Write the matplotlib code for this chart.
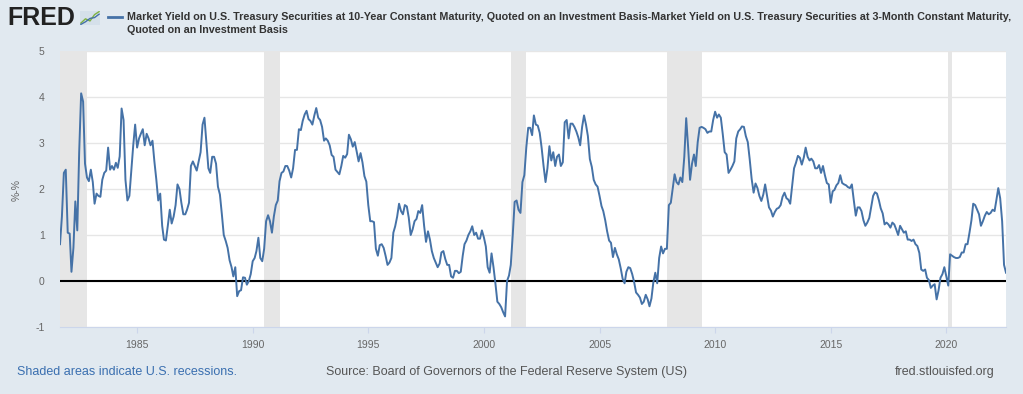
import matplotlib.pyplot as plt
import pandas as pd

plt.rcParams['font.family'] = ['Liberation Sans', 'DejaVu Sans']
plt.rcParams['axes.unicode_minus'] = False

# monthly spread 10Y - 3M (percentage points), starting Sep 1981
spread_1980s = [
    0.8, 1.4, 2.35, 2.42,
    1.05, 1.03, 0.2, 0.72, 1.73, 1.1, 2.8, 4.08, 3.9, 2.55, 2.25, 2.17,
    2.42, 2.15, 1.68, 1.9, 1.85, 1.83, 2.2, 2.35, 2.4, 2.9, 2.42, 2.5,
    2.42, 2.57, 2.46, 2.71, 3.75, 3.5, 2.2, 1.75, 1.85, 2.4, 2.95, 3.4,
    2.9, 3.1, 3.2, 3.3, 2.95, 3.2, 3.1, 2.95, 3.05, 2.6, 2.2, 1.75,
    1.9, 1.2, 0.9, 0.88, 1.2, 1.55, 1.25, 1.4, 1.65, 2.1, 2.0, 1.7,
    1.45, 1.45, 1.55, 1.7, 2.5, 2.6, 2.5, 2.4, 2.6, 2.8, 3.4, 3.55,
    3.0, 2.45, 2.35, 2.7, 2.7, 2.55, 2.05, 1.88, 1.45, 1.0, 0.87, 0.72,
    0.45, 0.3, 0.1, 0.3, -0.33, -0.22, -0.2, 0.08, 0.07, -0.08, 0.0, 0.15,
]
spread_1990s = [
    0.43, 0.5, 0.65, 0.94, 0.5, 0.43, 0.7, 1.3, 1.43, 1.3, 1.05, 1.4,
    1.65, 1.75, 2.17, 2.35, 2.38, 2.5, 2.5, 2.4, 2.25, 2.45, 2.85, 2.85,
    3.3, 3.28, 3.48, 3.62, 3.7, 3.52, 3.48, 3.4, 3.6, 3.76, 3.55, 3.5,
    3.35, 3.05, 3.1, 3.05, 2.95, 2.74, 2.7, 2.42, 2.37, 2.32, 2.5, 2.72,
    2.68, 2.76, 3.18, 3.08, 2.92, 3.02, 2.82, 2.6, 2.78, 2.58, 2.28, 2.16,
    1.65, 1.3, 1.3, 1.28, 0.7, 0.55, 0.78, 0.8, 0.72, 0.55, 0.35, 0.4,
    0.5, 1.05, 1.19, 1.4, 1.68, 1.52, 1.45, 1.65, 1.62, 1.38, 1.0, 1.12,
    1.3, 1.35, 1.52, 1.48, 1.65, 1.2, 0.85, 1.08, 0.9, 0.65, 0.5, 0.4,
    0.3, 0.38, 0.62, 0.65, 0.48, 0.35, 0.35, 0.1, 0.07, 0.22, 0.22, 0.17,
    0.2, 0.55, 0.8, 0.88, 1.0, 1.08, 1.19, 1.0, 1.05, 0.92, 0.92, 1.1,
]
spread_2000s = [
    0.95, 0.75, 0.3, 0.18, 0.6, 0.3, -0.05, -0.45, -0.5, -0.57, -0.68, -0.77,
    0.0, 0.12, 0.35, 1.0, 1.72, 1.75, 1.55, 1.48, 2.15, 2.3, 2.9, 3.33,
    3.33, 3.17, 3.6, 3.4, 3.38, 3.22, 2.9, 2.5, 2.15, 2.45, 2.93, 2.62,
    2.8, 2.5, 2.7, 2.75, 2.5, 2.58, 3.45, 3.5, 3.1, 3.42, 3.42, 3.35,
    3.25, 3.12, 2.95, 3.35, 3.6, 3.4, 3.15, 2.65, 2.48, 2.2, 2.1, 2.05,
    1.85, 1.63, 1.52, 1.32, 1.08, 0.88, 0.83, 0.52, 0.72, 0.58, 0.47, 0.28,
    0.05, -0.05, 0.2, 0.3, 0.28, 0.15, -0.02, -0.25, -0.3, -0.36, -0.5, -0.45,
    -0.3, -0.4, -0.55, -0.38, -0.03, 0.18, -0.05, 0.5, 0.75, 0.6, 0.7, 0.7,
    1.65, 1.7, 2.0, 2.32, 2.15, 2.1, 2.25, 2.15, 2.7, 3.54, 2.9, 2.2,
    2.55, 2.75, 2.5, 3.02, 3.33, 3.35, 3.33, 3.3, 3.22, 3.25, 3.25, 3.5,
]
spread_2010s = [
    3.68, 3.55, 3.62, 3.55, 3.2, 2.8, 2.75, 2.35, 2.42, 2.5, 2.6, 3.1,
    3.25, 3.3, 3.36, 3.35, 3.15, 3.02, 2.65, 2.22, 1.92, 2.12, 2.02, 1.85,
    1.74, 1.88, 2.1, 1.85, 1.6, 1.53, 1.4, 1.5, 1.57, 1.59, 1.65, 1.83,
    1.92, 1.8, 1.77, 1.68, 2.05, 2.45, 2.57, 2.72, 2.68, 2.53, 2.68, 2.9,
    2.7, 2.62, 2.66, 2.6, 2.45, 2.45, 2.52, 2.35, 2.5, 2.3, 2.13, 2.1,
    1.7, 1.95, 1.98, 2.08, 2.13, 2.3, 2.13, 2.1, 2.08, 2.04, 2.02, 2.1,
    1.75, 1.42, 1.6, 1.6, 1.52, 1.32, 1.2, 1.27, 1.37, 1.6, 1.85, 1.93,
    1.9, 1.75, 1.58, 1.47, 1.23, 1.27, 1.23, 1.16, 1.27, 1.23, 1.12, 1.0,
    1.2, 1.12, 1.05, 1.08, 0.9, 0.9, 0.87, 0.9, 0.8, 0.76, 0.61, 0.25,
    0.22, 0.25, 0.07, 0.02, -0.15, -0.1, -0.07, -0.4, -0.2, 0.07, 0.15, 0.3,
]
spread_2020s = [
    0.1, -0.1, 0.58, 0.55, 0.52, 0.5, 0.5, 0.52, 0.62, 0.62, 0.8, 0.8,
    1.05, 1.32, 1.68, 1.65, 1.55, 1.45, 1.2, 1.3, 1.42, 1.5, 1.45, 1.48,
    1.55, 1.52, 1.75, 2.02, 1.8, 1.3, 0.35, 0.18,
]

recession_start = ["1981-07-01", "1990-07-01", "2001-03-01", "2007-12-01", "2020-02-01"]
recession_end = ["1982-11-01", "1991-03-01", "2001-11-01", "2009-06-01", "2020-04-01"]
tick_years = [1985, 1990, 1995, 2000, 2005, 2010, 2015, 2020]

values = spread_1980s + spread_1990s + spread_2000s + spread_2010s + spread_2020s
dates = pd.date_range("1981-09-01", periods=len(values), freq="MS")

bg = "#e1e9f0"
fig = plt.figure(figsize=(10.23, 3.94), dpi=100, facecolor=bg)
ax = fig.add_axes([60 / 1023, 1 - 327 / 394, 946 / 1023, 276 / 394])
ax.set_facecolor("white")

for s, e in zip(recession_start, recession_end):
    ax.axvspan(pd.Timestamp(s), pd.Timestamp(e), color="#e6e6e6", lw=0, zorder=0)

ax.set_ylim(-1, 5)
ax.set_yticks(range(-1, 6))
ax.grid(axis="y", color="#e6e6e6", lw=1, zorder=1)
ax.axhline(0, color="black", lw=1.5, zorder=2)
ax.plot(dates, values, color="#4572a7", lw=1.4, zorder=3)
ax.set_xlim(dates[0], dates[-1])
ax.set_xticks([pd.Timestamp(f"{y}-01-01") for y in tick_years])
ax.set_xticklabels([str(y) for y in tick_years])

for side in ["top", "right", "left"]:
    ax.spines[side].set_visible(False)
ax.spines["bottom"].set_color("#ccd6eb")
ax.tick_params(axis="y", length=0, labelsize=7.5, labelcolor="#666666", pad=11)
ax.tick_params(axis="x", length=4, color="#ccd6eb", labelsize=7.5,
               labelcolor="#666666", pad=5)

fig.text(17 / 1023, 1 - 190 / 394, "%-%", rotation=90, ha="center", va="center",
         fontsize=7.5, color="#666666")

# header: logo and legend
fig.text(7 / 1023, 1 - 18 / 394, "FRED", fontsize=18, fontweight="bold",
         color="#222222", va="center", ha="left")
icon = fig.add_axes([80 / 1023, 1 - 25 / 394, 20 / 1023, 14 / 394])
icon.set_facecolor("#d5e0ea")
icon.plot([0, 1, 2, 3, 4], [0.5, 1.5, 1.0, 2.5, 3.2], color="#7fb241", lw=1)
icon.plot([0, 1, 2, 3, 4], [0.2, 0.8, 1.6, 1.8, 2.6], color="#4572a7", lw=1)
icon.set_xticks([])
icon.set_yticks([])
for sp in icon.spines.values():
    sp.set_visible(False)

fig.add_artist(plt.Line2D([108 / 1023, 122 / 1023], [1 - 17 / 394, 1 - 17 / 394],
                          color="#4572a7", lw=2))
title1 = ("Market Yield on U.S. Treasury Securities at 10-Year Constant Maturity, "
          "Quoted on an Investment Basis-Market Yield on U.S. Treasury Securities "
          "at 3-Month Constant Maturity,")
title2 = "Quoted on an Investment Basis"
fig.text(127 / 1023, 1 - 17 / 394, title1, fontsize=7.75, fontweight="bold",
         color="#333333", va="center", ha="left")
fig.text(127 / 1023, 1 - 30 / 394, title2, fontsize=7.75, fontweight="bold",
         color="#333333", va="center", ha="left")

# footer
fig.text(17 / 1023, 1 - 372 / 394, "Shaded areas indicate U.S. recessions.",
         fontsize=9, color="#3a6fb0", va="center", ha="left")
fig.text(506 / 1023, 1 - 372 / 394,
         "Source: Board of Governors of the Federal Reserve System (US)",
         fontsize=9, color="#555555", va="center", ha="center")
fig.text(995 / 1023, 1 - 372 / 394, "fred.stlouisfed.org",
         fontsize=9, color="#555555", va="center", ha="right")

fig.savefig("out.png", dpi=100, facecolor=bg)
